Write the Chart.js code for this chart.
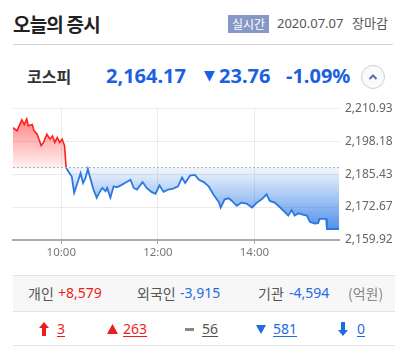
<!DOCTYPE html>
<html><head><meta charset="utf-8">
<script src="https://cdn.jsdelivr.net/npm/chart.js@4"></script>
<style>
html,body{margin:0;padding:0;background:#fff;width:401px;height:355px;overflow:hidden;font-family:"Noto Sans","Noto Sans CJK KR",sans-serif;}
.a{position:absolute;white-space:nowrap;}
#wrap{position:absolute;left:0;top:95px;width:401px;height:170px;}
.kr{font-family:"Noto Sans CJK KR","Noto Sans",sans-serif;}
.u{text-decoration:underline;text-underline-offset:2px;}
</style></head><body>
<script>
// ---- data ----
const timeMinutes = [0,5,11,14,17,19,24,26,30,35,38,42,46,49,52,55,58,61,64,66,69,73,76,80,84,87,90,93,96,100,104,107,111,115,117,121,125,129,134,139,146,150,154,161,166,172,177,182,187,193,199,205,210,214,220,226,231,237,243,249,256,258,263,268,272,278,284,290,297,303,309,315,319,325,332,338,342,346,350,355,360,365,369,375,379,381,389,390,405];
const indexValues = [2203.38,2202.24,2206.40,2204.62,2206.78,2204.13,2204.62,2202.24,2200.84,2196.46,2197.71,2200.84,2198.95,2200.24,2197.71,2199.60,2197.71,2198.95,2196.46,2187.93,2186.37,2184.48,2178.17,2181.95,2185.73,2181.95,2183.84,2187.39,2183.84,2179.46,2176.28,2178.17,2180.06,2178.81,2180.06,2176.28,2180.70,2180.33,2181.08,2181.95,2183.23,2180.06,2179.46,2182.33,2180.06,2178.55,2177.79,2181.08,2178.55,2179.46,2179.83,2180.70,2184.10,2181.95,2184.86,2185.12,2183.23,2182.33,2180.70,2177.57,2174.39,2172.50,2175.68,2176.06,2175.03,2173.15,2174.39,2174.01,2172.50,2174.39,2175.68,2177.57,2175.03,2174.39,2172.50,2170.61,2169.37,2171.52,2169.37,2170.24,2169.74,2169.37,2166.84,2166.23,2166.46,2168.12,2168.12,2164.17,2164.17];
const prevClose = 2187.93;
const yTickValues = [2210.93,2198.18,2185.43,2172.67,2159.92];
const yTickLabels = ['2,210.93','2,198.18','2,185.43','2,172.67','2,159.92'];
const xTickValues = [60,180,300];
const xTickLabels = ['10:00','12:00','14:00'];
const xMax = 405;
</script>

<div class="a kr" style="left:13px;top:10px;font-size:19px;font-weight:700;color:#222;line-height:27px;letter-spacing:-0.8px">오늘의 증시</div>
<div class="a kr" style="left:228px;top:15px;width:41px;height:18px;background:#8797c6;color:#fff;font-size:12px;line-height:18px;text-align:center">실시간</div>
<div class="a" style="left:277px;top:13px;font-size:13px;line-height:20px;color:#555">2020.07.07</div>
<div class="a kr" style="left:352px;top:13px;font-size:13px;line-height:20px;color:#555">장마감</div>
<div class="a" style="left:13px;top:44px;width:380px;height:1px;background:#d4d4d4"></div>

<div class="a kr" style="left:27px;top:63px;font-size:16px;font-weight:700;color:#333;line-height:26px">코스피</div>
<div class="a" style="left:106px;top:61px;font-size:20px;font-weight:700;color:#1c5fe0;line-height:30px">2,164.17</div>
<div class="a" style="left:204px;top:62px;font-size:14px;color:#1c5fe0;line-height:26px;font-family:'DejaVu Sans'">▼</div>
<div class="a" style="left:219px;top:61px;font-size:20px;font-weight:700;color:#1c5fe0;line-height:30px">23.76</div>
<div class="a" style="left:286px;top:61px;font-size:20px;font-weight:700;color:#1c5fe0;line-height:30px">-1.09%</div>
<div class="a" style="left:361px;top:65px;width:22px;height:22px;border:1px solid #cfcfcf;border-radius:50%;background:#fafafa">
<svg width="22" height="22" style="position:absolute;left:0;top:0"><polyline points="7.5,13 11,9.5 14.5,13" fill="none" stroke="#5a6fb5" stroke-width="2"/></svg></div>

<div id="wrap"><canvas id="c" width="401" height="170"></canvas></div>

<div class="a" style="left:13px;top:275px;width:382px;height:35px;background:#f7f7f7;border-top:1px solid #e2e2e2;border-bottom:1px solid #e2e2e2"></div>
<div class="a" style="left:13px;top:311px;width:382px;height:34px;border-bottom:1px solid #e6e6e6"></div>
<div class="a kr" style="left:28px;top:283px;font-size:14px;line-height:20px;color:#555">개인</div>
<div class="a" style="left:58px;top:283px;font-size:14px;line-height:20px;color:#ee1c1c">+8,579</div>
<div class="a kr" style="left:137px;top:283px;font-size:14px;line-height:20px;color:#555">외국인</div>
<div class="a" style="left:180px;top:283px;font-size:14px;line-height:20px;color:#1e6ce0">-3,915</div>
<div class="a kr" style="left:258px;top:283px;font-size:14px;line-height:20px;color:#555">기관</div>
<div class="a" style="left:289px;top:283px;font-size:14px;line-height:20px;color:#1e6ce0">-4,594</div>
<div class="a kr" style="left:348px;top:283px;font-size:14px;line-height:20px;color:#888">(억원)</div>

<svg class="a" style="left:39px;top:322px" width="10" height="14"><polygon points="5,0 10,6 7,6 7,14 3,14 3,6 0,6" fill="#ee1c1c"/></svg>
<div class="a u" style="left:57px;top:319px;font-size:14px;line-height:20px;color:#ee1c1c">3</div>
<svg class="a" style="left:107px;top:324px" width="11" height="10"><polygon points="5.5,0 11,10 0,10" fill="#ee1c1c"/></svg>
<div class="a u" style="left:123px;top:319px;font-size:14px;line-height:20px;color:#ee1c1c">263</div>
<div class="a" style="left:185px;top:328px;width:9px;height:3px;background:#888"></div>
<div class="a u" style="left:202px;top:319px;font-size:14px;line-height:20px;color:#555">56</div>
<svg class="a" style="left:256px;top:325px" width="10" height="9"><polygon points="0,0 10,0 5,9" fill="#1e6ce0"/></svg>
<div class="a u" style="left:273px;top:319px;font-size:14px;line-height:20px;color:#1e6ce0">581</div>
<svg class="a" style="left:338px;top:322px" width="10" height="14"><polygon points="3,0 7,0 7,8 10,8 5,14 0,8 3,8" fill="#1e6ce0"/></svg>
<div class="a u" style="left:357px;top:319px;font-size:14px;line-height:20px;color:#1e6ce0">0</div>

<script>
const pts = timeMinutes.map((t,i)=>({x:t,y:indexValues[i]}));
const lastUp = pts.findIndex(p=>p.y<prevClose)-1;
const redPts = pts.slice(0,lastUp+1);
const bluePts = pts.slice(lastUp);

function redFill(ctx){
  const c=ctx.chart,a=c.chartArea; if(!a) return 'rgba(0,0,0,0)';
  const base=c.scales.y.getPixelForValue(prevClose);
  const g=c.ctx.createLinearGradient(0,a.top+8,0,base);
  g.addColorStop(0,'rgba(255,60,60,0.65)');
  g.addColorStop(1,'rgba(255,60,60,0.07)');
  return g;
}
function blueFill(ctx){
  const c=ctx.chart,a=c.chartArea; if(!a) return 'rgba(0,0,0,0)';
  const base=c.scales.y.getPixelForValue(prevClose);
  const g=c.ctx.createLinearGradient(0,base,0,a.bottom);
  g.addColorStop(0,'rgba(42,120,228,0.06)');
  g.addColorStop(1,'rgba(42,120,228,0.95)');
  return g;
}

new Chart(document.getElementById('c'),{
  type:'line',
  data:{datasets:[
    {data:[{x:0,y:prevClose},{x:xMax,y:prevClose}],borderColor:'#a8a8a8',borderWidth:1,borderDash:[2,2],pointRadius:0,fill:false},
    {data:redPts,borderColor:'#ff2020',borderWidth:1.6,pointRadius:0,tension:0,fill:{target:{value:prevClose}},backgroundColor:redFill},
    {data:bluePts,borderColor:'#2a78e0',borderWidth:1.8,pointRadius:0,tension:0,fill:{target:{value:prevClose}},backgroundColor:blueFill}
  ]},
  options:{
    responsive:false,animation:false,devicePixelRatio:1,
    layout:{padding:{left:13,top:10,right:0,bottom:0}},
    plugins:{legend:{display:false},tooltip:{enabled:false}},
    scales:{
      x:{type:'linear',min:0,max:xMax,z:1,
        afterFit:s=>{s.height=25;},
        afterBuildTicks:s=>{s.ticks=xTickValues.map(v=>({value:v}));},
        ticks:{autoSkip:false,maxRotation:0,padding:2,color:'#777',font:{family:'Noto Sans',size:11.5},
          callback:v=>xTickLabels[xTickValues.indexOf(v)]},
        grid:{color:'rgba(232,232,232,0.9)',tickLength:4,tickColor:'#aaa'},
        border:{display:true,color:'#aaa',width:2}
      },
      y:{position:'right',min:yTickValues[4],max:yTickValues[0],z:1,
        afterFit:s=>{s.width=62;},
        afterBuildTicks:s=>{s.ticks=yTickValues.slice().reverse().map(v=>({value:v}));},
        ticks:{autoSkip:false,padding:6,color:'#666',font:{family:'Noto Sans',size:12},
          callback:v=>yTickLabels[yTickValues.indexOf(v)]},
        grid:{color:'rgba(232,232,232,0.9)',drawTicks:false},
        border:{display:false}
      }
    }
  }
});
</script>
</body></html>
